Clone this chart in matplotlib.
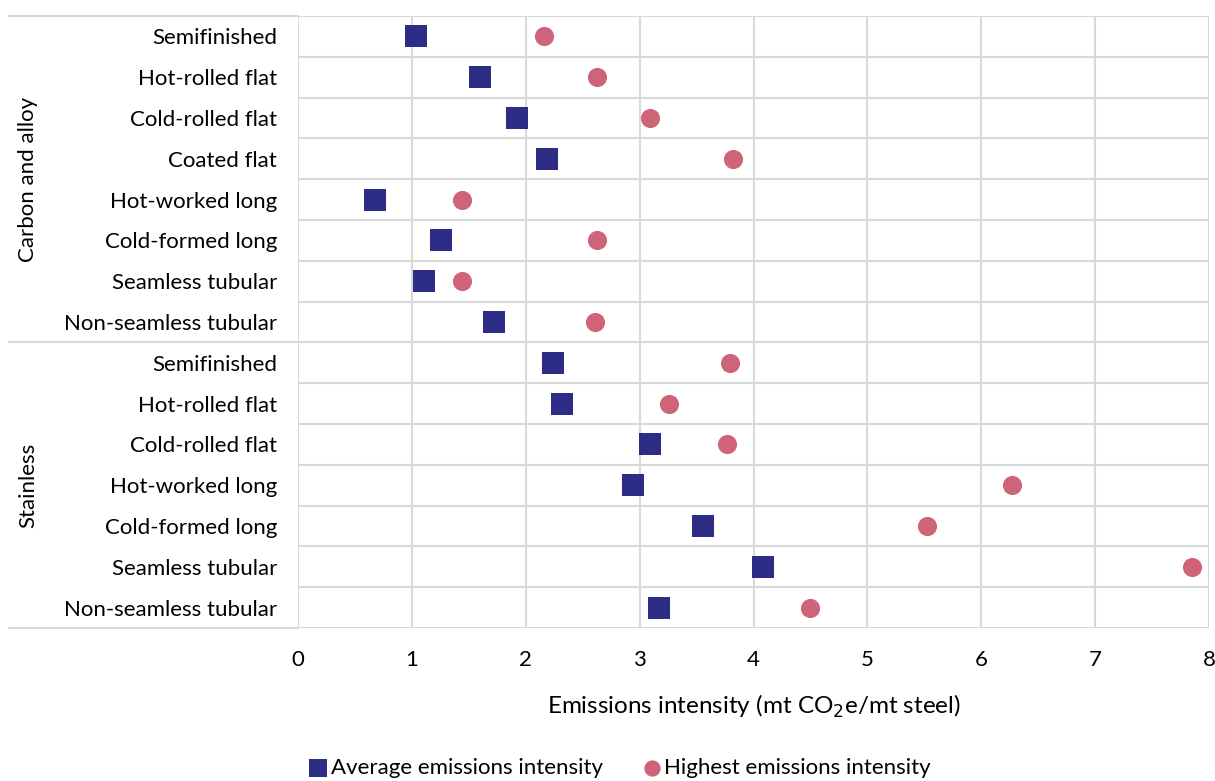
import numpy as np
import matplotlib.pyplot as plt

plt.rcParams['font.family'] = ['Lato', 'DejaVu Sans']

products = ["Semifinished", "Hot-rolled flat", "Cold-rolled flat", "Coated flat",
            "Hot-worked long", "Cold-formed long", "Seamless tubular",
            "Non-seamless tubular"]
stainless_products = ["Semifinished", "Hot-rolled flat", "Cold-rolled flat",
                      "Hot-worked long", "Cold-formed long", "Seamless tubular",
                      "Non-seamless tubular"]
groups = ["Carbon and alloy", "Stainless"]

carbon_avg = [1.04, 1.60, 1.92, 2.19, 0.68, 1.26, 1.11, 1.72]
carbon_high = [2.16, 2.63, 3.09, 3.82, 1.44, 2.63, 1.44, 2.61]
stainless_avg = [2.24, 2.32, 3.09, 2.94, 3.56, 4.08, 3.17]
stainless_high = [3.79, 3.26, 3.77, 6.27, 5.52, 7.85, 4.50]

labels = products + stainless_products
avg = carbon_avg + stainless_avg
high = carbon_high + stainless_high
n = len(labels)
y = np.arange(n)

fig = plt.figure(figsize=(12.15, 7.81), dpi=100)
ax = fig.add_axes([298/1215, 1-628/781, 911/1215, 612/781])

fs = 16
grid_col = "#D9D9D9"
ax.scatter(avg, y, marker='s', s=235, color="#2E2D86", zorder=3,
           label="Average emissions intensity", linewidths=0)
ax.scatter(high, y, marker='o', s=190, color="#CF6479", zorder=3,
           label="Highest emissions intensity", linewidths=0)

ax.set_xlim(0, 8)
ax.set_ylim(n - 0.5, -0.5)
ax.set_xticks(np.arange(0, 9))
ax.set_yticks(y)
ax.set_yticklabels(labels)
ax.tick_params(axis='y', length=0, pad=15, labelsize=fs)
ax.tick_params(axis='x', length=0, pad=16, labelsize=fs)

# grid lines: verticals at integers, horizontals between rows
for xv in range(0, 9):
    ax.axvline(xv, color=grid_col, lw=1.5, zorder=1)
for yb in np.arange(-0.5, n, 1.0):
    ax.axhline(yb, color=grid_col, lw=1.5, zorder=1)
for s in ax.spines.values():
    s.set_visible(False)

# group separators extending to the left
tr = ax.get_yaxis_transform()
for yb in [-0.5, len(products) - 0.5, n - 0.5]:
    ax.plot([-289/911, 0], [yb, yb], color=grid_col, lw=1.5,
            transform=tr, clip_on=False)

ax.text(-270/911, (len(products) - 1) / 2, groups[0], rotation=90,
        ha='center', va='center', fontsize=fs, transform=tr)
ax.text(-270/911, len(products) + (len(stainless_products) - 1) / 2, groups[1],
        rotation=90, ha='center', va='center', fontsize=fs, transform=tr)

ax.set_xlabel("Emissions intensity (mt CO$_2$e/mt steel)", fontsize=17.5, labelpad=16)

fig.legend(*ax.get_legend_handles_labels(), loc='center',
           bbox_to_anchor=(620/1215, 1-768/781), ncol=2, frameon=False,
           fontsize=fs, handletextpad=0.15, handlelength=0.8,
           columnspacing=1.8, markerscale=0.85,
           borderaxespad=0, borderpad=0)

fig.savefig("out.png", dpi=100)
